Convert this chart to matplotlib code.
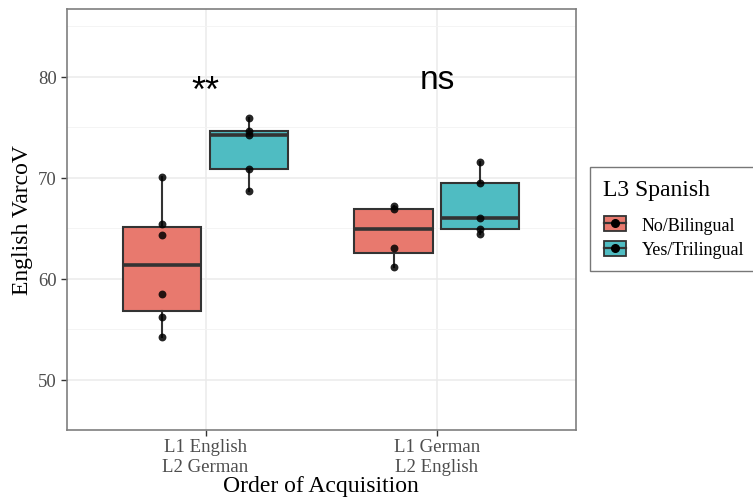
import numpy as np
import matplotlib.pyplot as plt
from matplotlib.legend_handler import HandlerBase
from matplotlib.patches import Rectangle
from matplotlib.lines import Line2D

# data
groups = ['L1 English\nL2 German', 'L1 German\nL2 English']
legend_title = 'L3 Spanish'
series = ['No/Bilingual', 'Yes/Trilingual']
values = {
    'No/Bilingual': [
        [70.1, 65.4, 64.3, 58.5, 56.25, 54.2],
        [67.24, 66.86, 63.0, 61.2],
    ],
    'Yes/Trilingual': [
        [75.9, 74.6, 74.2, 70.9, 68.7],
        [71.6, 69.5, 66.0, 64.9, 64.4],
    ],
}
signif = ['**', 'ns']
colors = ['#E8796E', '#4FBCC2']

serif = ['Liberation Serif', 'DejaVu Serif']
sans = ['Liberation Sans', 'DejaVu Sans']
edge = '#333333'

fig = plt.figure(figsize=(7.53, 5.02), dpi=100)
ax = fig.add_axes([0.0886, 0.1414, 0.676, 0.8386])

dodge = 0.1875
boxw = 0.3375
for si, name in enumerate(series):
    off = -dodge if si == 0 else dodge
    pos = [i + 1 + off for i in range(len(groups))]
    bp = ax.boxplot(values[name], positions=pos, widths=boxw, patch_artist=True,
                    showfliers=False, whis=1.5, manage_ticks=False,
                    boxprops=dict(facecolor=colors[si], edgecolor=edge, linewidth=1.5),
                    medianprops=dict(color=edge, linewidth=2.6),
                    whiskerprops=dict(color=edge, linewidth=1.5),
                    capprops=dict(linewidth=0), zorder=3)
    for p, vals in zip(pos, values[name]):
        ax.scatter([p] * len(vals), vals, s=32, color='black', alpha=0.85,
                   zorder=4, linewidths=0)

# significance labels
ax.text(1, 77.6, signif[0], ha='center', va='baseline', fontsize=26,
        family=sans, zorder=5)
ax.text(2, 78.9, signif[1], ha='center', va='baseline', fontsize=24,
        family=sans, zorder=5)

ax.set_xlim(0.4, 2.6)
ax.set_ylim(46.25, 86.73)
ax.set_xticks([1, 2])
ax.set_xticklabels(groups)
ax.set_yticks([50, 60, 70, 80])
ax.set_yticks([45, 55, 65, 75, 85], minor=True)
ax.grid(True, which='major', color='#EBEBEB', linewidth=1.1, zorder=0)
ax.grid(True, axis='y', which='minor', color='#F3F3F3', linewidth=0.6, zorder=0)
ax.set_axisbelow(True)
ax.tick_params(which='major', length=4, color='#333333', width=1,
               labelsize=13.5, labelcolor='#4D4D4D', pad=3)
ax.tick_params(axis='x', pad=2)
ax.tick_params(which='minor', length=0)
for lbl in ax.get_xticklabels() + ax.get_yticklabels():
    lbl.set_family(serif)
for sp in ax.spines.values():
    sp.set_color('#7F7F7F')
    sp.set_linewidth(1.2)

ax.set_xlabel('Order of Acquisition', fontsize=17, family=serif, labelpad=0)
ax.set_ylabel('English VarcoV', fontsize=17, family=serif, labelpad=4)


class BoxKey(HandlerBase):
    def create_artists(self, legend, orig_handle, xdescent, ydescent,
                       width, height, fontsize, trans):
        col = orig_handle.get_facecolor()
        w, h = width, height
        r = Rectangle((0.05 * w - xdescent, 0.1 * h - ydescent), 0.9 * w, 0.8 * h,
                      facecolor=col, edgecolor=edge, linewidth=1.3, transform=trans)
        m = Line2D([0.05 * w - xdescent, 0.95 * w - xdescent],
                   [0.5 * h - ydescent] * 2, color=edge, linewidth=1.6,
                   transform=trans)
        d = Line2D([0.5 * w - xdescent], [0.5 * h - ydescent], marker='o',
                   markersize=5.5, color='black', transform=trans)
        return [r, m, d]


handles = [Rectangle((0, 0), 1, 1, facecolor=c) for c in colors]
leg = fig.legend(handles, series, loc='upper left', bbox_to_anchor=(0.784, 0.666),
                 title=legend_title, handler_map={Rectangle: BoxKey()},
                 prop={'family': serif, 'size': 13}, frameon=True, fancybox=False,
                 handlelength=1.35, handleheight=1.2, handletextpad=0.8,
                 labelspacing=0.3, borderpad=0.7, borderaxespad=0)
leg.get_title().set_fontfamily(serif)
leg.get_title().set_fontsize(17)
leg._legend_box.align = 'left'
leg._legend_box.sep = 10
leg.get_frame().set_edgecolor('#555555')
leg.get_frame().set_linewidth(1.0)

fig.savefig('out.png', dpi=100)
